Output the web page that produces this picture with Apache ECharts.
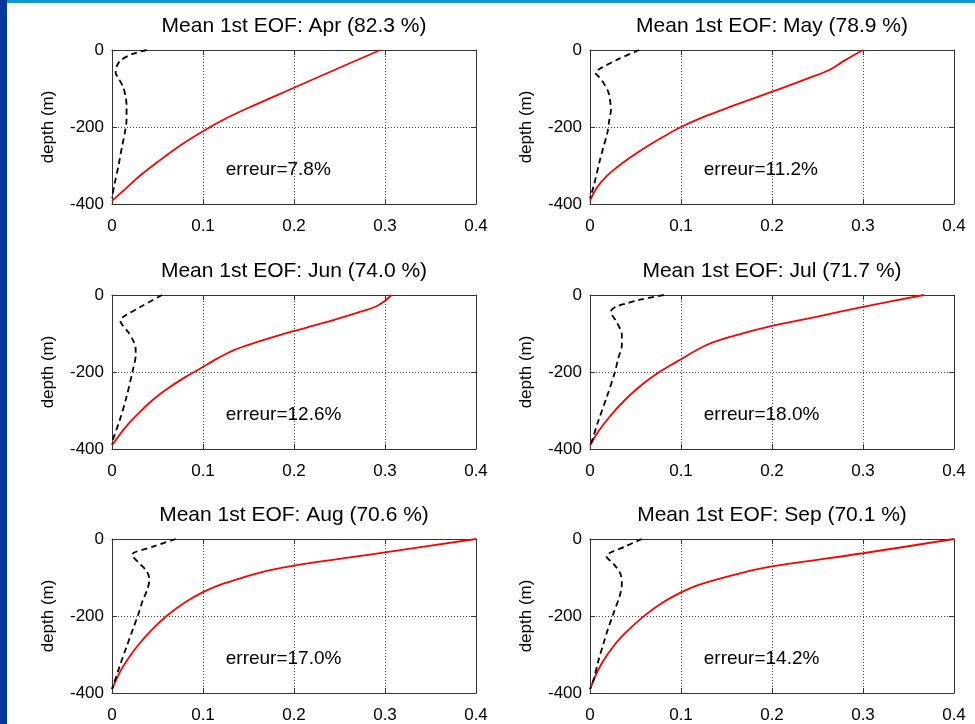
<!DOCTYPE html>
<html><head><meta charset="utf-8">
<script src="https://cdn.jsdelivr.net/npm/echarts@6/dist/echarts.min.js"></script>
<style>html,body{margin:0;padding:0;background:#fff}#c{width:975px;height:724px}</style>
</head><body><div id="c"></div>
<script>
// ---- data ----
const months = ['Apr','May','Jun','Jul','Aug','Sep'];
const variance = ['82.3','78.9','74.0','71.7','70.6','70.1'];
const erreurs = ['7.8','11.2','12.6','18.0','17.0','14.2'];
const xTicks = [0, 0.1, 0.2, 0.3, 0.4];
const yTicks = [-400, -200, 0];
const erreurPos = [0.125, -311];

// [amplitude, depth]
const aprRed = [[0.295,0],[0.25,-46],[0.2,-98],[0.15,-150],[0.125,-178],[0.1,-211],[0.075,-248],[0.05,-291],[0.03,-328],[0.015,-360],[0,-392]];
const aprBlack = [[0.038,0],[0.023,-10],[0.010,-26],[0.005,-43],[0.004,-60],[0.007,-73],[0.012,-95],[0.015,-121],[0.016,-147],[0.016,-181],[0.014,-216],[0.011,-251],[0.007,-302],[0.003,-346],[0,-385]];
const mayRed = [[0.300,0],[0.280,-27],[0.263,-52],[0.238,-75],[0.211,-99],[0.156,-146],[0.129,-170],[0.100,-200],[0.080,-226],[0.063,-250],[0.045,-278],[0.030,-304],[0.018,-328],[0.008,-356],[0,-391]];
const mayBlack = [[0.054,0],[0.030,-25],[0.010,-50],[0.006,-60],[0.010,-70],[0.015,-86],[0.020,-108],[0.022,-130],[0.023,-155],[0.021,-185],[0.019,-216],[0.015,-250],[0.011,-285],[0.004,-354],[0,-385]];
const junRed = [[0.307,0],[0.300,-15],[0.290,-30],[0.270,-46],[0.245,-64],[0.215,-84],[0.186,-103],[0.160,-122],[0.134,-143],[0.115,-166],[0.097,-191],[0.080,-214],[0.060,-245],[0.045,-272],[0.031,-303],[0.015,-343],[0,-390]];
const junBlack = [[0.055,0],[0.032,-30],[0.013,-56],[0.009,-66],[0.012,-80],[0.018,-97],[0.023,-117],[0.026,-140],[0.026,-157],[0.023,-194],[0.016,-264],[0.0085,-325],[0.001,-376],[0,-388]];
const julRed = [[0.367,0],[0.300,-31],[0.250,-56],[0.200,-80],[0.158,-106],[0.128,-130],[0.094,-175],[0.077,-199],[0.055,-237],[0.037,-276],[0.022,-315],[0.009,-355],[0,-391]];
const julBlack = [[0.081,0],[0.055,-12],[0.040,-22],[0.029,-30],[0.023,-43],[0.025,-55],[0.029,-69],[0.035,-104],[0.035,-130],[0.031,-165],[0.0275,-199],[0.018,-268],[0.009,-328],[0.002,-380],[0,-390]];
const augRed = [[0.400,0],[0.300,-35],[0.200,-69],[0.170,-83],[0.141,-102],[0.120,-118],[0.100,-138],[0.080,-165],[0.060,-200],[0.045,-233],[0.030,-272],[0.020,-303],[0.010,-340],[0,-390]];
const augBlack = [[0.070,0],[0.045,-20],[0.022,-41],[0.030,-63],[0.037,-80],[0.040,-93],[0.041,-106],[0.039,-130],[0.034,-158],[0.029,-195],[0.023,-234],[0.016,-280],[0.0085,-330],[0.001,-383],[0,-390]];
const sepRed = [[0.400,0],[0.300,-37],[0.200,-71],[0.170,-86],[0.132,-110],[0.115,-123],[0.099,-140],[0.080,-165],[0.061,-197],[0.045,-230],[0.035,-253],[0.026,-278],[0.015,-315],[0.007,-350],[0,-391]];
const sepBlack = [[0.057,0],[0.038,-20],[0.018,-45],[0.026,-65],[0.033,-88],[0.035,-114],[0.033,-145],[0.026,-192],[0.020,-232],[0.015,-270],[0.009,-318],[0.004,-365],[0,-390]];

const redSeries = [aprRed, mayRed, junRed, julRed, augRed, sepRed];
const blackSeries = [aprBlack, mayBlack, junBlack, julBlack, augBlack, sepBlack];

// ---- layout ----
const FONT = "'Liberation Sans', Arial, Helvetica, sans-serif";
const colLeft = [112, 590];
const rowTop = [50, 295, 539];
const PW = 364, PH = 154;
const AX = '#333';

const grids = [], xAxes = [], yAxes = [], series = [], graphics = [];
graphics.push({type:'rect', shape:{x:0,y:0,width:7,height:724}, style:{fill:'#06379c'}, z:100});
graphics.push({type:'rect', shape:{x:7,y:0,width:968,height:3}, style:{fill:'#0a9ad2'}, z:100});

months.forEach((m, i) => {
  const left = colLeft[i % 2], top = rowTop[Math.floor(i / 2)];
  grids.push({left, top, width: PW, height: PH, show: false});
  const xBase = {gridIndex: i, type: 'value', min: xTicks[0], max: xTicks[xTicks.length-1], interval: xTicks[1]-xTicks[0]};
  const yBase = {gridIndex: i, type: 'value', min: yTicks[0], max: yTicks[yTicks.length-1], interval: yTicks[1]-yTicks[0]};
  xAxes.push(Object.assign({}, xBase, {
    position: 'bottom',
    axisLine: {show: true, onZero: false, lineStyle: {color: AX, width: 1}},
    axisTick: {show: true, inside: true, length: 5, lineStyle: {color: AX}},
    axisLabel: {margin: 14, fontSize: 17, color: '#000', fontFamily: FONT,
      formatter: v => v === 0 ? '0' : v.toFixed(1)},
    splitLine: {show: true, lineStyle: {type: [1, 2], color: '#444', width: 1}}
  }));
  xAxes.push(Object.assign({}, xBase, {
    position: 'top',
    axisLine: {show: true, onZero: false, lineStyle: {color: AX, width: 1}},
    axisTick: {show: true, inside: true, length: 5, lineStyle: {color: AX}},
    axisLabel: {show: false}, splitLine: {show: false}
  }));
  yAxes.push(Object.assign({}, yBase, {
    position: 'left',
    name: 'depth (m)', nameLocation: 'middle', nameGap: 55,
    nameTextStyle: {fontSize: 17, color: '#000', fontFamily: FONT},
    axisLine: {show: true, onZero: false, lineStyle: {color: AX, width: 1}},
    axisTick: {show: true, inside: true, length: 5, lineStyle: {color: AX}},
    axisLabel: {margin: 8, fontSize: 17, color: '#000', fontFamily: FONT},
    splitLine: {show: true, lineStyle: {type: [1, 2], color: '#444', width: 1}}
  }));
  yAxes.push(Object.assign({}, yBase, {
    position: 'right',
    axisLine: {show: true, onZero: false, lineStyle: {color: AX, width: 1}},
    axisTick: {show: true, inside: true, length: 5, lineStyle: {color: AX}},
    axisLabel: {show: false}, splitLine: {show: false}
  }));
  series.push({
    type: 'line', xAxisIndex: 2*i, yAxisIndex: 2*i, data: redSeries[i],
    symbol: 'none', smooth: 0.35, lineStyle: {color: '#ff0000', width: 1.8}, z: 3, silent: true
  });
  series.push({
    type: 'line', xAxisIndex: 2*i, yAxisIndex: 2*i, data: blackSeries[i],
    symbol: 'none', smooth: 0.3, lineStyle: {color: '#000', width: 1.8, type: [6, 4]}, z: 4, silent: true
  });
  graphics.push({
    type: 'text', x: left + PW / 2, y: top - 24, z: 50,
    style: {text: 'Mean 1st EOF: ' + m + ' (' + variance[i] + ' %)', fontSize: 21, fontFamily: FONT,
      fill: '#000', align: 'center', verticalAlign: 'middle', textAlign: 'center', textVerticalAlign: 'middle'}
  });
});

const chart = echarts.init(document.getElementById('c'), null, {renderer: 'canvas'});
chart.setOption({
  backgroundColor: '#fff',
  animation: false,
  grid: grids, xAxis: xAxes, yAxis: yAxes, series, graphic: graphics
});

// "erreur" annotations placed through each panel's own axes
const texts = months.map((m, i) => {
  const p = chart.convertToPixel({xAxisIndex: 2*i, yAxisIndex: 2*i}, erreurPos);
  return {
    type: 'text', x: p[0], y: p[1], z: 50,
    style: {text: 'erreur=' + erreurs[i] + '%', fontSize: 19, fontFamily: FONT, fill: '#000',
      align: 'left', verticalAlign: 'middle', textAlign: 'left', textVerticalAlign: 'middle'}
  };
});
chart.setOption({graphic: graphics.concat(texts)});
</script></body></html>
